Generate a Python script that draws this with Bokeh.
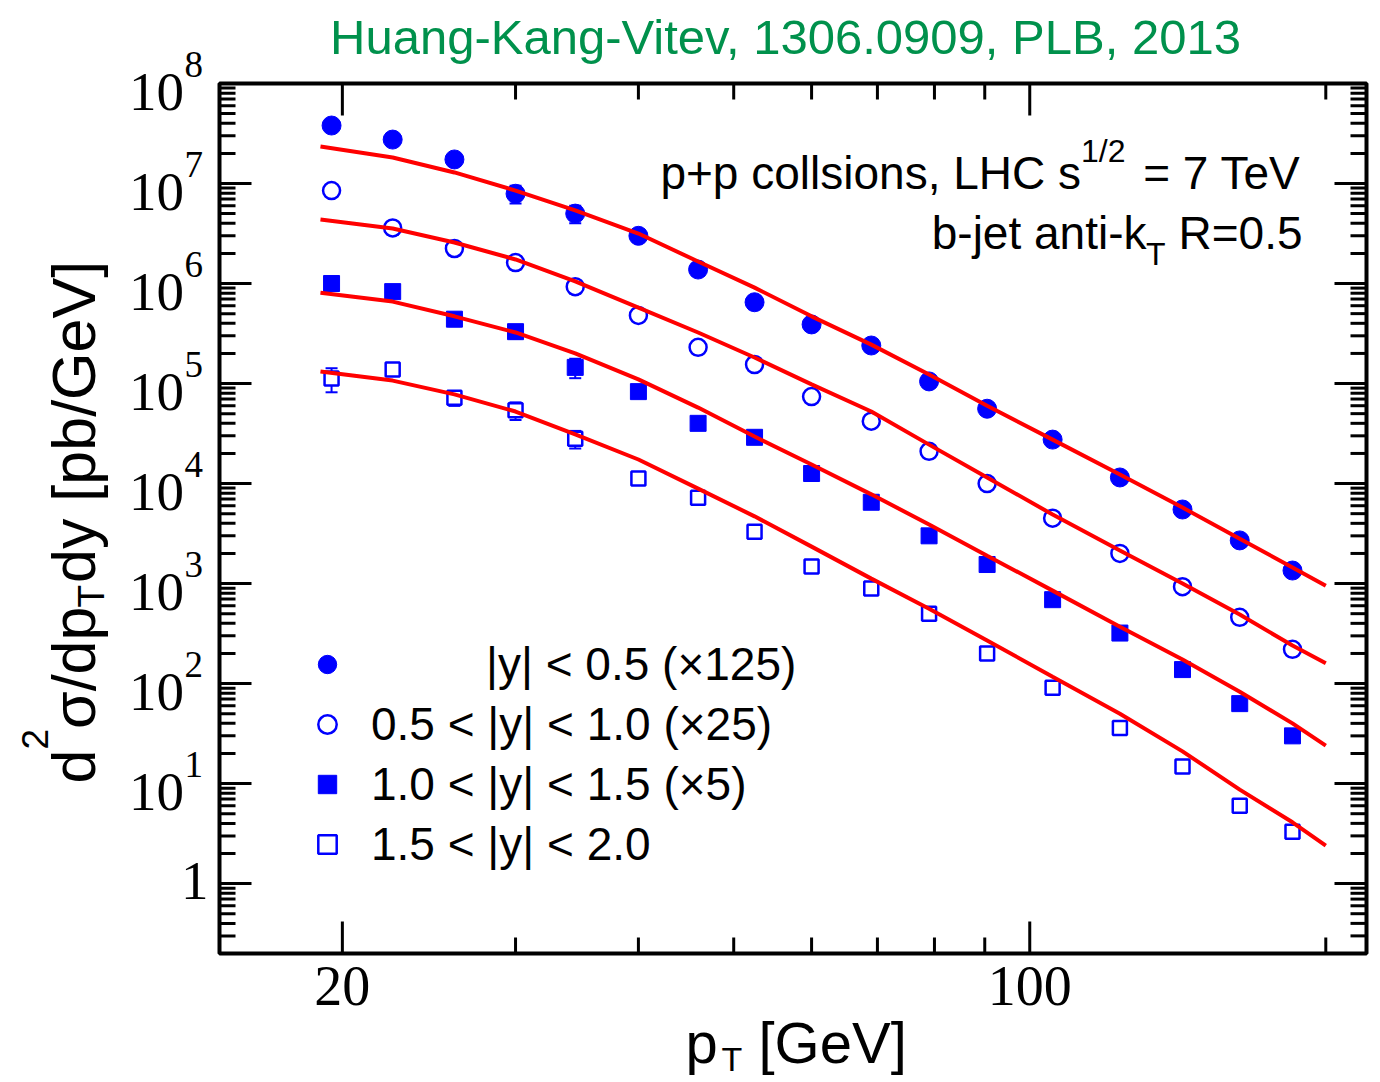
import math
from bokeh.plotting import figure
from bokeh.models import (Range1d, Label, Legend, LegendItem, ColumnDataSource, Whisker,
                          TeeHead, BoxAnnotation)
from bokeh.embed import file_html
from bokeh.resources import INLINE

# ---------------- data ----------------
pt = [19.5, 22.5, 26, 30, 34.5, 40, 46, 52.5, 60, 69, 79, 90.5, 105.5, 123.5, 143, 163.5, 185]

# |y| < 0.5 (x125)
y_bin1 = [3.8e7, 2.75e7, 1.74e7, 7.9e6, 5.0e6, 3.0e6, 1.38e6, 6.5e5, 3.9e5, 2.4e5,
          1.05e5, 5.6e4, 2.75e4, 1.15e4, 5.5e3, 2.7e3, 1.35e3]
# 0.5 < |y| < 1.0 (x25)
y_bin2 = [8.5e6, 3.6e6, 2.24e6, 1.62e6, 9.3e5, 4.8e5, 2.3e5, 1.55e5, 7.4e4, 4.2e4,
          2.1e4, 1.0e4, 4.5e3, 2.0e3, 9.3e2, 4.6e2, 2.2e2]
# 1.0 < |y| < 1.5 (x5)
y_bin3 = [1.0e6, 8.3e5, 4.4e5, 3.3e5, 1.45e5, 8.3e4, 4.0e4, 2.9e4, 1.26e4, 6.5e3,
          3.0e3, 1.55e3, 6.9e2, 3.2e2, 1.38e2, 63, 30]
# 1.5 < |y| < 2.0
y_bin4 = [1.12e5, 1.38e5, 7.2e4, 5.4e4, 2.8e4, 1.12e4, 7.2e3, 3.3e3, 1.48e3, 8.9e2,
          5.0e2, 2.0e2, 91, 36, 14.8, 6.0, 3.3]

# relative uncertainties
err_bin1 = [0.1, 0.1, 0.1, 0.2, 0.2, 0.1, 0.1, 0.15, 0.1, 0.08, 0.08, 0.08, 0.08, 0.08, 0.08, 0.08, 0.08]
err_bin2 = [0.1, 0.15, 0.15, 0.15, 0.15, 0.1, 0.1, 0.1, 0.08, 0.08, 0.08, 0.08, 0.08, 0.08, 0.08, 0.08, 0.08]
err_bin3 = [0.1, 0.1, 0.15, 0.15, 0.22, 0.1, 0.1, 0.1, 0.08, 0.08, 0.08, 0.08, 0.08, 0.08, 0.08, 0.08, 0.08]
err_bin4 = [0.27, 0.1, 0.17, 0.2, 0.2, 0.1, 0.15, 0.1, 0.08, 0.08, 0.08, 0.08, 0.08, 0.08, 0.08, 0.08, 0.08]

# theory curves
pt_theory = [19, 22.5, 26, 30, 34.5, 40, 46, 52.5, 60, 69, 79, 90.5, 105.5, 123.5, 143, 163.5, 185, 200]
th_bin1 = [2.34e7, 1.82e7, 1.29e7, 8.5e6, 5.4e6, 3.16e6, 1.66e6, 9.1e5, 4.7e5, 2.45e5,
           1.23e5, 6.0e4, 2.75e4, 1.23e4, 5.75e3, 2.8e3, 1.45e3, 9.5e2]
th_bin2 = [4.37e6, 3.55e6, 2.57e6, 1.74e6, 1.05e6, 5.75e5, 3.24e5, 1.82e5, 9.8e4, 5.25e4,
           2.45e4, 1.15e4, 4.9e3, 2.14e3, 1.0e3, 4.9e2, 2.4e2, 1.6e2]
th_bin3 = [8.1e5, 6.6e5, 4.7e5, 3.24e5, 2.0e5, 1.1e5, 5.75e4, 2.95e4, 1.55e4, 7.8e3,
           3.9e3, 1.9e3, 8.5e2, 3.7e2, 1.74e2, 83, 40, 24]
th_bin4 = [1.32e5, 1.07e5, 7.8e4, 5.25e4, 3.1e4, 1.74e4, 8.9e3, 4.7e3, 2.34e3, 1.12e3,
           5.6e2, 2.7e2, 1.17e2, 50, 21, 8.7, 4.1, 2.4]

legend_labels = ["\u00a0" * 9 + "|y| < 0.5 (\u00d7125)",
                 "0.5 < |y| < 1.0 (\u00d725)",
                 "1.0 < |y| < 1.5 (\u00d75)",
                 "1.5 < |y| < 2.0"]

x_major = [20, 100]
x_major_labels = ["20", "100"]
x_minor = [30, 40, 50, 60, 70, 80, 90, 200]
y_exponents = [0, 1, 2, 3, 4, 5, 6, 7, 8]

title_text = "Huang-Kang-Vitev, 1306.0909, PLB, 2013"

# ---------------- geometry of the plot box inside the canvas ----------------
W, H = 1380, 1082
BOX_L, BOX_R, BOX_T, BOX_B = 219, 1366, 83, 953   # pixel edges of the drawn box
X0, X1 = 15, 220          # data range spanned by the box
Y0, Y1 = 0.2, 1e8
DX = (BOX_R - BOX_L) / math.log10(X1 / X0)   # px per decade
DY = (BOX_B - BOX_T) / math.log10(Y1 / Y0)
x_lo = X0 * 10 ** (-BOX_L / DX)
x_hi = X1 * 10 ** ((W - BOX_R) / DX)
y_lo = Y0 * 10 ** (-(H - BOX_B) / DY)
y_hi = Y1 * 10 ** (BOX_T / DY)


def fx(px):
    return 10 ** (px / DX)


def fy(px):
    return 10 ** (px / DY)


p = figure(width=W, height=H, x_axis_type="log", y_axis_type="log",
           x_range=Range1d(x_lo, x_hi), y_range=Range1d(y_lo, y_hi),
           output_backend="svg", toolbar_location=None,
           x_axis_location=None, y_axis_location=None,
           min_border=0, min_border_left=0, min_border_right=0,
           min_border_top=0, min_border_bottom=0)
p.background_fill_color = "white"
p.border_fill_color = "white"
p.xgrid.visible = False
p.ygrid.visible = False
p.outline_line_color = None

y_major = [10.0 ** e for e in y_exponents]
y_minor = [k * 10.0 ** e for e in range(-1, 8) for k in range(2, 10) if Y0 <= k * 10.0 ** e <= Y1]

# ---------------- box and ticks ----------------
MAJ, MIN = 32, 16
tx0, ty0, tx1, ty1 = [], [], [], []
for ticks, ln in [(x_major, MAJ), (x_minor, MIN)]:
    for t in ticks:
        tx0 += [t, t]
        tx1 += [t, t]
        ty0 += [Y0, Y1]
        ty1 += [Y0 * fy(ln), Y1 / fy(ln)]
for ticks, ln in [(y_major, MAJ), (y_minor, MIN)]:
    for t in ticks:
        ty0 += [t, t]
        ty1 += [t, t]
        tx0 += [X0, X1]
        tx1 += [X0 * fx(ln), X1 / fx(ln)]
p.segment(tx0, ty0, tx1, ty1, line_color="black", line_width=3, line_cap="butt")

p.add_layout(BoxAnnotation(left=X0, right=X1, bottom=Y0, top=Y1, fill_alpha=0,
                           line_color="black", line_width=4, line_alpha=1))

BLUE = "#0000FF"
RED = "#FF0000"

# ---------------- error bars ----------------
for vals, errs in [(y_bin1, err_bin1), (y_bin2, err_bin2), (y_bin3, err_bin3), (y_bin4, err_bin4)]:
    src = ColumnDataSource(dict(x=pt,
                                upper=[v * (1 + e) for v, e in zip(vals, errs)],
                                lower=[v * (1 - e) for v, e in zip(vals, errs)]))
    w = Whisker(source=src, base="x", upper="upper", lower="lower", dimension="height",
                line_color=BLUE, line_width=2,
                upper_head=TeeHead(size=12, line_color=BLUE, line_width=2),
                lower_head=TeeHead(size=12, line_color=BLUE, line_width=2))
    p.add_layout(w)

# ---------------- data points ----------------
r1 = p.scatter(pt, y_bin1, marker="circle", size=19, fill_color=BLUE, line_color=BLUE, line_width=1)
r2 = p.scatter(pt, y_bin2, marker="circle", size=17, fill_color="white", line_color=BLUE, line_width=2.5)
r3 = p.scatter(pt, y_bin3, marker="square", size=16, fill_color=BLUE, line_color=BLUE, line_width=1)
r4 = p.scatter(pt, y_bin4, marker="square", size=14, fill_color="white", line_color=BLUE, line_width=2.5)

# ---------------- theory ----------------
for th in [th_bin1, th_bin2, th_bin3, th_bin4]:
    p.line(pt_theory, th, line_color=RED, line_width=4)

# ---------------- legend ----------------
legend = Legend(items=[LegendItem(label=lab, renderers=[r]) for lab, r in zip(legend_labels, [r1, r2, r3, r4])],
                location=(304, H - 874), padding=0, margin=0, spacing=0,
                glyph_width=46, glyph_height=46, label_height=60, label_standoff=21,
                label_text_font="Liberation Sans", label_text_font_size="46px",
                label_text_color="black", border_line_color=None,
                background_fill_alpha=0)
p.add_layout(legend)

# ---------------- text helper ----------------
SERIF = "Liberation Serif"
SANS = "Liberation Sans"
BASE_K = 0.385   # compensates the renderer's baseline placement (fraction of font size)


def lab(x, y, text, xo=0.0, yo=0.0, align="left", font=SANS, size=46, color="black", angle=0.0):
    c = BASE_K * size
    xo = xo - math.sin(angle) * c
    yo = yo + math.cos(angle) * c
    p.add_layout(Label(x=x, y=y, x_offset=xo, y_offset=yo, text=text, text_align=align,
                       text_baseline="alphabetic", text_font=font,
                       text_font_size=f"{size}px", text_color=color, angle=angle))


# ---------------- tick labels ----------------
for e in y_exponents:
    if e == 0:
        lab(X0, 10.0 ** e, "1", xo=-11, yo=-19, align="right", font=SERIF, size=55)
    else:
        lab(X0, 10.0 ** e, "10", xo=-35.5, yo=-30, align="right", font=SERIF, size=55)
        lab(X0, 10.0 ** e, str(e), xo=-35, yo=5, align="left", font=SERIF, size=37)

for xv, t in zip(x_major, x_major_labels):
    lab(xv, Y0, t, yo=-54, align="center", font=SERIF, size=56)

# ---------------- axis titles ----------------
lab(X0, Y0, "p", xo=466, yo=-111, size=58)
lab(X0, Y0, "T", xo=502, yo=-119, size=34)
lab(X0, Y0, "[GeV]", xo=539, yo=-111, size=58)

F, FS = 61, 37
ylab_parts = [("d", F, 0), ("2", FS, -48), ("\u03c3/dp", F, 0), ("T", FS, 8), ("dy [pb/GeV]", F, 0)]
ylab_widths = [0.556 * F, 0.556 * FS, (0.6 + 0.278 + 0.556 + 0.556) * F, 0.611 * FS + 2, 0]
pos = 170.0
for (txt, fs, shift), wdt in zip(ylab_parts, ylab_widths):
    lab(X0, Y0, txt, xo=-122 + shift, yo=pos, size=fs, angle=math.pi / 2)
    pos += wdt

# ---------------- in-plot annotations ----------------
lab(X1, Y1, "= 7 TeV", xo=-66, yo=-107, align="right", size=46)
lab(X1, Y1, "1/2", xo=-241, yo=-80, align="right", size=32)
lab(X1, Y1, "p+p collsions, LHC s", xo=-285.5, yo=-107, align="right", size=46)

lab(X1, Y1, "R=0.5", xo=-64, yo=-167, align="right", size=46)
lab(X1, Y1, "T", xo=-201, yo=-183, align="right", size=32)
lab(X1, Y1, "b-jet anti-k", xo=-220, yo=-167, align="right", size=46)

# ---------------- title ----------------
lab(X0, Y1, title_text, xo=566, yo=28, align="center", size=49, color="#00914C")

open("out.html", "w").write(file_html(p, INLINE))
